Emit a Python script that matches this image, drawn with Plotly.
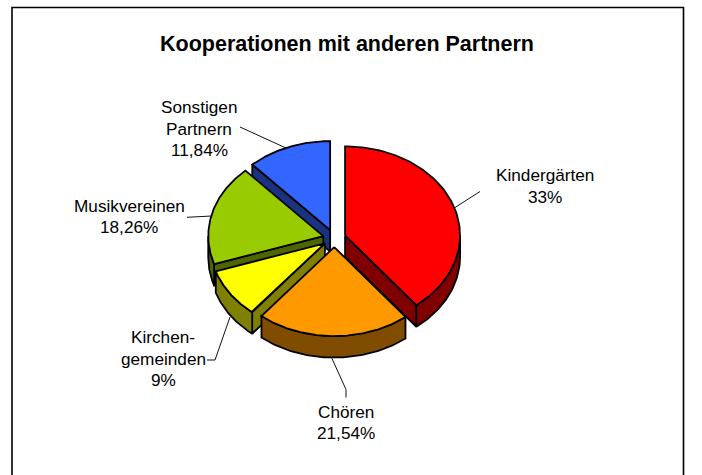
import numpy as np
import plotly.graph_objects as go

categories = [["Kindergärten"], ["Chören"], ["Kirchen-", "gemeinden"], ["Musikvereinen"], ["Sonstigen", "Partnern"]]
values = [39.36, 21.54, 9.0, 18.26, 11.84]
value_labels = ["33%", "21,54%", "9%", "18,26%", "11,84%"]
top_colors = ["#FF0000", "#FF9900", "#FFFF00", "#99CC00", "#3366FF"]
side_colors = ["#800000", "#804D00", "#808000", "#4D6600", "#1A3380"]
title_text = "Kooperationen mit anderen Partnern"

label_pos = [(545, 175), (346, 411.5), (163, 337), (129, 205.5), (199, 107)]
leaders = [
    [(480, 191.5), (455, 207.5)],
    [(346, 397.5), (346, 389.5), (331.5, 357.5)],
    [(207, 360), (215, 360), (230, 317)],
    [(187, 217.3), (211.5, 216)],
    [(240, 127), (287, 148.5)],
]
paint_order = [4, 3, 0, 2, 1]

CX, CY = 334.3, 238.3
A, B = 115.0, 89.0
DEPTH = 21.5
EXPLODE = 11.4
LINE_W = 1.8
LINE_STEP = 21.6

def pt(t, ox, oy):
    return ox + A * np.sin(t), oy - B * np.cos(t)

def face(fig, xs, ys, color):
    fig.add_trace(go.Scatter(x=xs, y=ys, mode="lines", fill="toself", fillcolor=color,
                             line=dict(color="black", width=LINE_W), hoverinfo="skip", showlegend=False))

fig = go.Figure()
total = sum(values)
edges = np.concatenate([[0.0], np.cumsum(values)]) / total * 2 * np.pi

for i in paint_order:
    t0, t1 = edges[i], edges[i + 1]
    mid = (t0 + t1) / 2
    ox = CX + EXPLODE * np.sin(mid)
    oy = CY - EXPLODE * (B / A) * np.cos(mid)
    for t, visible in ((t0, np.sin(t0) < -1e-6), (t1, np.sin(t1) > 1e-6)):
        if visible:
            x1, y1 = pt(t, ox, oy)
            face(fig, [ox, x1, x1, ox, ox], [oy, y1, y1 + DEPTH, oy + DEPTH, oy], side_colors[i])
    lo, hi = max(t0, np.pi / 2), min(t1, 3 * np.pi / 2)
    if hi > lo:
        ts = np.linspace(lo, hi, 60)
        xa, ya = pt(ts, ox, oy)
        xs = np.concatenate([xa, xa[::-1], xa[:1]])
        ys = np.concatenate([ya, ya[::-1] + DEPTH, ya[:1]])
        face(fig, xs, ys, side_colors[i])
    ts = np.linspace(t0, t1, 120)
    xa, ya = pt(ts, ox, oy)
    face(fig, np.concatenate([[ox], xa, [ox]]), np.concatenate([[oy], ya, [oy]]), top_colors[i])

for path in leaders:
    fig.add_trace(go.Scatter(x=[p[0] for p in path], y=[p[1] for p in path], mode="lines",
                             line=dict(color="#111111", width=1), hoverinfo="skip", showlegend=False))

FONT = "Liberation Sans, Arial, sans-serif"
annotations = [dict(x=347, y=44, xref="x", yref="y", text="<b>%s</b>" % title_text, showarrow=False,
                    font=dict(family=FONT, size=21.5, color="black"))]
for cat, val, (x, y) in zip(categories, value_labels, label_pos):
    for k, line in enumerate(cat + [val]):
        annotations.append(dict(x=x, y=y + k * LINE_STEP, xref="x", yref="y", text=line, showarrow=False,
                                align="center", font=dict(family=FONT, size=17.2, color="black")))

fig.update_layout(
    width=702, height=475, autosize=False,
    margin=dict(l=0, r=0, t=0, b=0),
    paper_bgcolor="white", plot_bgcolor="white",
    xaxis=dict(range=[0, 702], visible=False, fixedrange=True),
    yaxis=dict(range=[475, 0], visible=False, fixedrange=True),
    annotations=annotations,
    shapes=[dict(type="rect", x0=12, y0=7.5, x1=683.5, y1=500, xref="x", yref="y",
                 line=dict(color="black", width=1.6), layer="below")],
    showlegend=False,
)
fig.write_html("out.html", config={"displayModeBar": False, "responsive": False},
               post_script="document.body.style.margin='0';document.documentElement.style.overflow='hidden';")
